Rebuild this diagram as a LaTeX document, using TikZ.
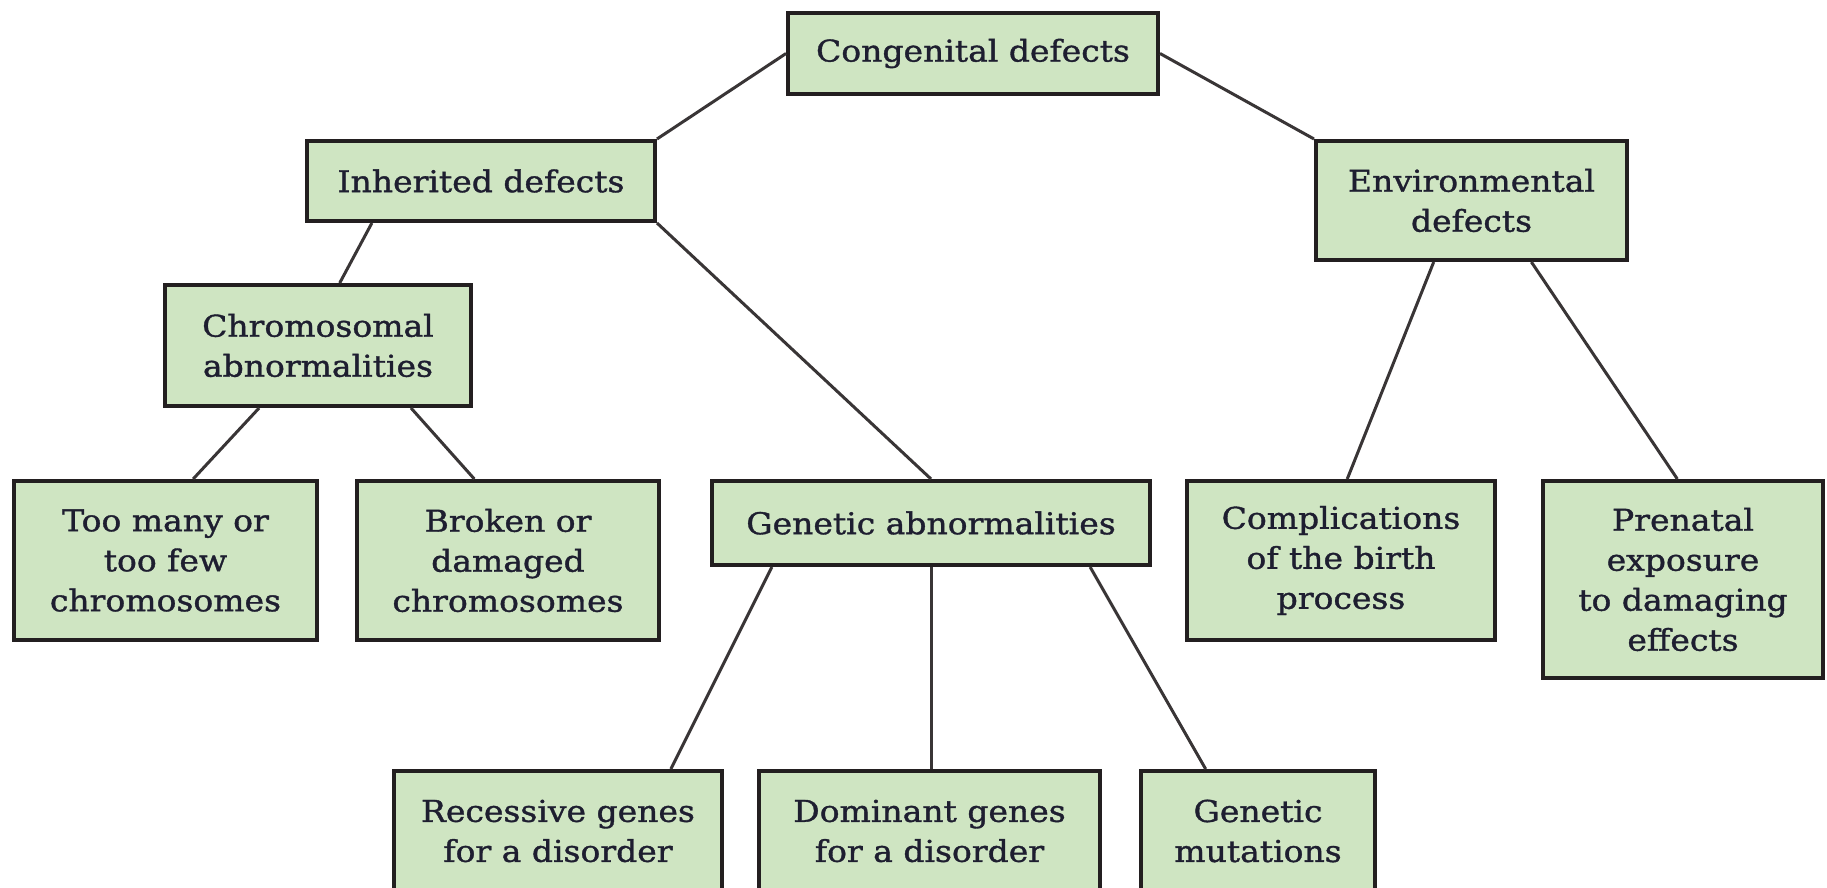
\documentclass[tikz,border=0pt]{standalone}
\usepackage{fontspec}
\setmainfont[FakeBold=1.2,FakeStretch=1.1]{DejaVu Serif}
\usetikzlibrary{calc}
\definecolor{boxfill}{HTML}{CFE5C2}
\definecolor{boxline}{HTML}{231F20}
\definecolor{txt}{HTML}{1E1E30}
\tikzset{
  box/.style={draw=boxline, line width=4pt, fill=boxfill, rectangle, inner sep=0pt,
    align=center, text=txt, font=\fontsize{30}{40}\selectfont},
  link/.style={draw=boxline!90, line width=3pt}
}
\newcommand{\bx}[6]{\node[box, minimum width=#4pt-4pt, minimum height=#5pt-4pt] (#1) at (#2,#3) {#6};}
\begin{document}
\begin{tikzpicture}[x=1pt,y=-1pt]
\useasboundingbox (0,0) rectangle (1827,888);
\clip (0,0) rectangle (1827,888);
\fill[white] (0,0) rectangle (1827,888);
\bx{cong}{973}{53.5}{374}{85}{Congenital defects}
\bx{inh}{481}{181}{352}{84}{Inherited defects}
\bx{env}{1471.5}{200.5}{315}{123}{Environmental\\defects}
\bx{chrom}{318}{345.5}{310}{125}{Chromosomal\\abnormalities}
\bx{many}{165.5}{560.5}{307}{163}{Too many or\\too few\\chromosomes}
\bx{brok}{508}{560.5}{306}{163}{Broken or\\damaged\\chromosomes}
\bx{gen}{931}{523}{442}{88}{Genetic abnormalities}
\bx{compl}{1341}{560.5}{312}{163}{Complications\\of the birth\\process}
\bx{pren}{1683}{579.5}{284}{201}{Prenatal\\exposure\\to damaging\\effects}
\bx{rec}{558}{831}{332}{124}{Recessive genes\\for a disorder}
\bx{dom}{929.5}{831}{345}{124}{Dominant genes\\for a disorder}
\bx{mut}{1258}{831}{238}{124}{Genetic\\mutations}
\draw[link] (cong.west) -- (inh.north east);
\draw[link] (cong.east) -- (env.north west);
\draw[link] ($(inh.south west)!0.19!(inh.south east)$) -- ($(chrom.north west)!0.57!(chrom.north east)$);
\draw[link] (inh.south east) -- (gen.north);
\draw[link] ($(chrom.south west)!0.31!(chrom.south east)$) -- ($(many.north west)!0.59!(many.north east)$);
\draw[link] ($(chrom.south west)!0.80!(chrom.south east)$) -- ($(brok.north west)!0.39!(brok.north east)$);
\draw[link] ($(env.south west)!0.38!(env.south east)$) -- ($(compl.north west)!0.52!(compl.north east)$);
\draw[link] ($(env.south west)!0.69!(env.south east)$) -- ($(pren.north west)!0.48!(pren.north east)$);
\draw[link] ($(gen.south west)!0.14!(gen.south east)$) -- ($(rec.north west)!0.84!(rec.north east)$);
\draw[link] (gen.south) -- (gen.south |- dom.north);
\draw[link] ($(gen.south west)!0.86!(gen.south east)$) -- ($(mut.north west)!0.28!(mut.north east)$);
\end{tikzpicture}
\end{document}
